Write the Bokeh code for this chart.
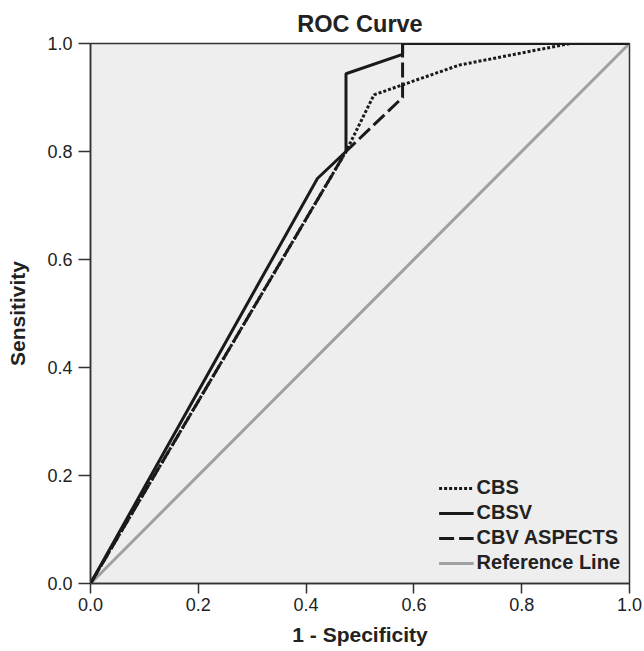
from bokeh.plotting import figure
from bokeh.models import Range1d, FixedTicker, PrintfTickFormatter, Legend, LegendItem
from bokeh.embed import file_html
from bokeh.resources import INLINE

# Data
cbs_fpr = [0.0, 0.474, 0.526, 0.684, 0.89, 1.0]
cbs_tpr = [0.0, 0.80, 0.905, 0.96, 1.0, 1.0]

cbsv_fpr = [0.0, 0.421, 0.474, 0.474, 0.579, 0.579, 1.0]
cbsv_tpr = [0.0, 0.75, 0.80, 0.944, 0.98, 1.0, 1.0]

cbv_fpr = [0.0, 0.474, 0.579, 0.579, 1.0]
cbv_tpr = [0.0, 0.80, 0.90, 1.0, 1.0]

ref_fpr = [0.0, 1.0]
ref_tpr = [0.0, 1.0]

ticks = [0.0, 0.2, 0.4, 0.6, 0.8, 1.0]

FONT = "Liberation Sans"
DARK = "#222222"

p = figure(width=644, height=651, output_backend="svg", toolbar_location=None,
           x_range=Range1d(0, 1), y_range=Range1d(0, 1),
           min_border_left=90, min_border_right=15, min_border_top=43, min_border_bottom=68)

p.background_fill_color = "#eeeeee"
p.border_fill_color = "white"
p.outline_line_color = "#333333"
p.outline_line_width = 1.5
p.grid.visible = False

p.title.text = "ROC Curve"
p.title.text_font = FONT
p.title.text_font_size = "23.5px"
p.title.text_font_style = "bold"
p.title.align = "center"
p.title.text_color = DARK
p.title.standoff = 13

for ax in (p.xaxis[0], p.yaxis[0]):
    ax.ticker = FixedTicker(ticks=ticks)
    ax.formatter = PrintfTickFormatter(format="%.1f")
    ax.minor_tick_line_color = None
    ax.major_tick_in = 0
    ax.major_tick_line_color = "#333333"
    ax.major_tick_line_width = 1.5
    ax.axis_line_color = "#333333"
    ax.axis_line_width = 1.5
    ax.major_label_text_font = FONT
    ax.major_label_text_font_size = "18px"
    ax.major_label_text_color = DARK
    ax.axis_label_text_font = FONT
    ax.axis_label_text_font_size = "21px"
    ax.axis_label_text_font_style = "bold"
    ax.axis_label_text_color = DARK

p.xaxis.axis_label = "1 - Specificity"
p.yaxis.axis_label = "Sensitivity"
p.xaxis.major_tick_out = 10
p.yaxis.major_tick_out = 12
p.xaxis.major_label_standoff = 4
p.yaxis.major_label_standoff = 6
p.xaxis.axis_label_standoff = 9
p.yaxis.axis_label_standoff = 15

r_ref = p.line(ref_fpr, ref_tpr, line_color="#a0a0a0", line_width=3)
r_cbs = p.line(cbs_fpr, cbs_tpr, line_color="#1a1a1a", line_width=3, line_dash="3 2")
r_cbv = p.line(cbv_fpr, cbv_tpr, line_color="#1a1a1a", line_width=3, line_dash="15 5")
r_cbsv = p.line(cbsv_fpr, cbsv_tpr, line_color="#1a1a1a", line_width=3)

legend = Legend(items=[
    LegendItem(label="CBS", renderers=[r_cbs]),
    LegendItem(label="CBSV", renderers=[r_cbsv]),
    LegendItem(label="CBV ASPECTS", renderers=[r_cbv]),
    LegendItem(label="Reference Line", renderers=[r_ref]),
], location="bottom_right")
legend.background_fill_alpha = 0
legend.border_line_color = None
legend.label_text_font = FONT
legend.label_text_font_size = "20px"
legend.label_text_font_style = "bold"
legend.label_text_color = DARK
legend.glyph_width = 35
legend.glyph_height = 22
legend.label_height = 22
legend.label_standoff = 3
legend.spacing = 2
legend.padding = 2
legend.margin = 9
p.add_layout(legend)

open("out.html", "w").write(file_html(p, INLINE))
